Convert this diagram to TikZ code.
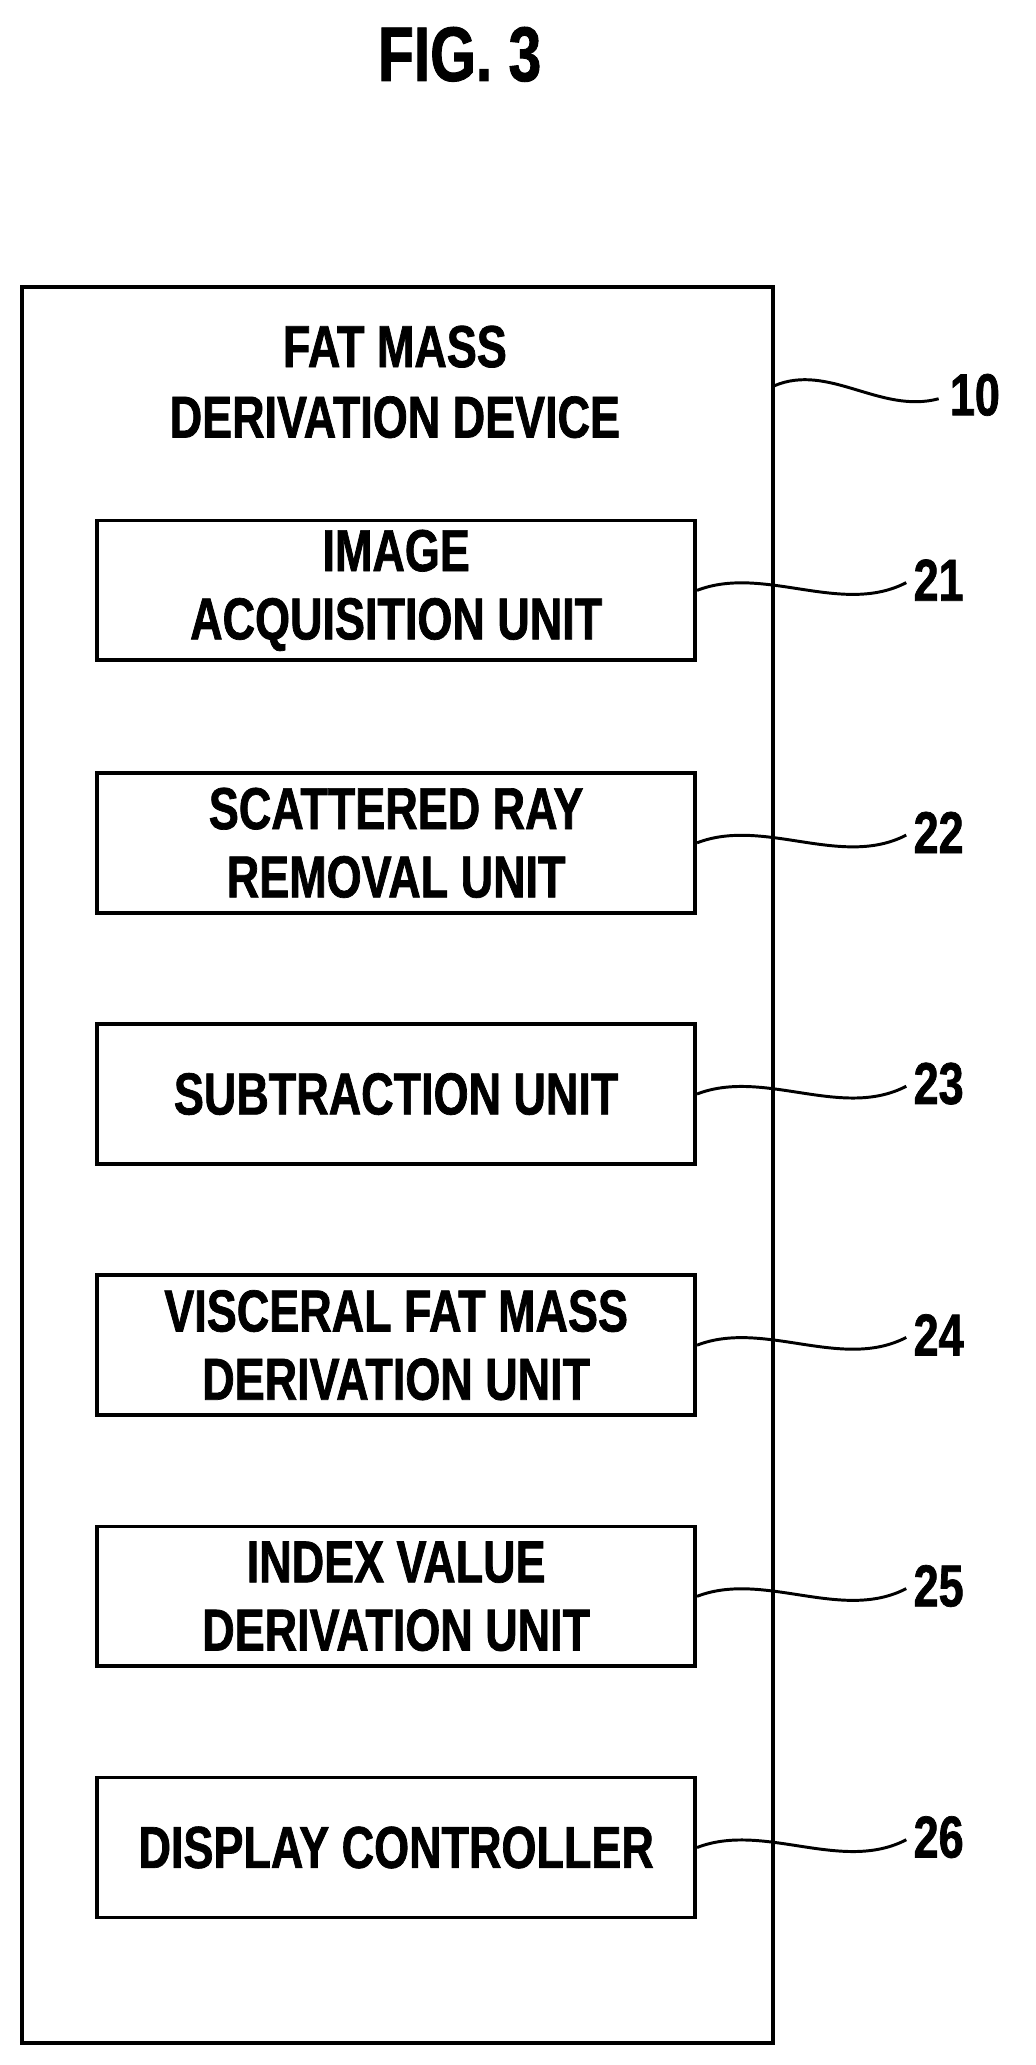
\documentclass[tikz,border=0pt]{standalone}
\usepackage{fontspec}
\setmainfont[FakeStretch=0.76,FakeBold=1.2]{Liberation Sans}
\begin{document}
\begin{tikzpicture}[x=0.02cm,y=-0.02cm,
  unit/.style={draw,line width=1.6pt,minimum width=462*0.02cm,minimum height=108*0.02cm,align=center,font=\bfseries\fontsize{26}{30}\selectfont,inner sep=0pt},
  lead/.style={line width=1.3pt},
  num/.style={font=\bfseries\fontsize{26}{30}\selectfont,inner sep=0pt}]
\useasboundingbox (0,0) rectangle (800,1595);
\node[font=\bfseries\fontsize{34}{40}\selectfont] (title) at (355,42) {FIG. 3};
\node[draw,line width=1.8pt,minimum width=580*0.02cm,minimum height=1356*0.02cm,inner sep=0pt] (dev) at (307,900) {};
\node[font=\bfseries\fontsize{26}{31}\selectfont,align=center] (devlab) at (305,295) {FAT MASS\\DERIVATION DEVICE};
\node[unit] (u21) at (306,456) {IMAGE\\ACQUISITION UNIT};
\node[unit] (u22) at (306,651) {SCATTERED RAY\\REMOVAL UNIT};
\node[unit] (u23) at (306,845) {SUBTRACTION UNIT};
\node[unit] (u24) at (306,1039) {VISCERAL FAT MASS\\DERIVATION UNIT};
\node[unit] (u25) at (306,1233) {INDEX VALUE\\DERIVATION UNIT};
\node[unit] (u26) at (306,1427) {DISPLAY CONTROLLER};
\node[num] (n10) at (753,305) {10};
\draw[lead] (598,298) .. controls (640,280) and (680,320) .. (725,308);
\foreach \i/\y in {21/456,22/651,23/845,24/1039,25/1233,26/1427}{
  \node[num] (n\i) at (725,\y-8) {\i};
  \draw[lead] (u\i.east) .. controls (590,\y-20) and (650,\y+20) .. (700,\y-6);
}
\end{tikzpicture}
\end{document}
